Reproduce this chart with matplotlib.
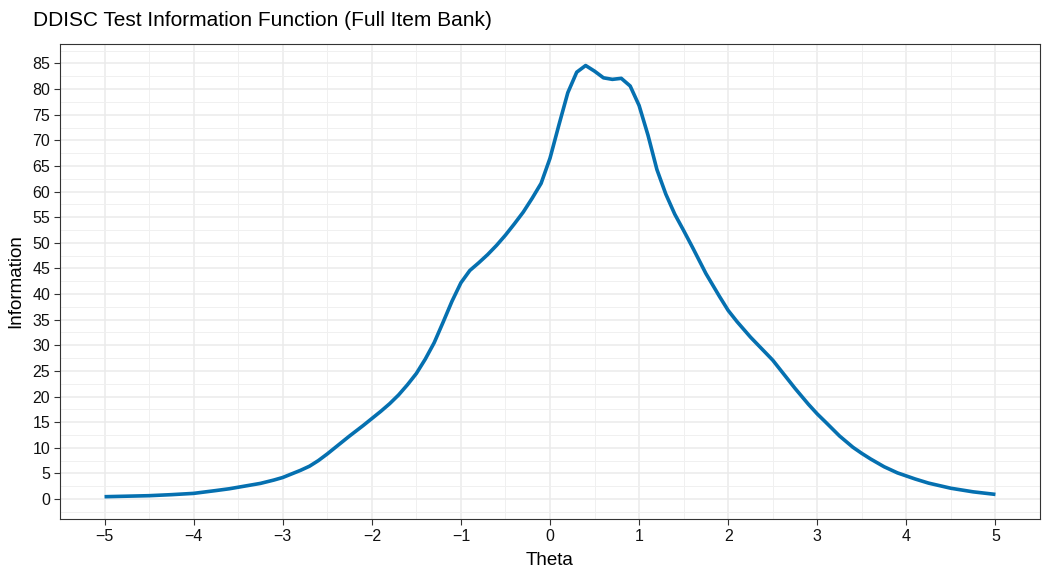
import matplotlib
matplotlib.use("Agg")
import matplotlib.pyplot as plt
from matplotlib.ticker import MultipleLocator

plt.rcParams['font.family'] = ['Liberation Sans', 'DejaVu Sans']

theta = [-5.0, -4.5, -4.25, -4.0, -3.75, -3.6, -3.5, -3.4, -3.25, -3.1, -3.0, -2.9,
         -2.8, -2.7, -2.6, -2.5, -2.4, -2.25, -2.1,
         -2.0, -1.9, -1.8, -1.7, -1.6, -1.5, -1.4, -1.3, -1.2, -1.1, -1.0, -0.9,
         -0.8, -0.7, -0.6, -0.5, -0.4, -0.3, -0.2, -0.1, 0.0, 0.1, 0.2, 0.3, 0.4,
         0.5, 0.6, 0.7, 0.8, 0.9, 1.0, 1.1, 1.2, 1.3, 1.4, 1.5, 1.6, 1.75, 1.9,
         2.0, 2.1, 2.25, 2.5, 2.75, 2.9, 3.0, 3.1, 3.25, 3.4, 3.5, 3.6, 3.75, 3.9,
         4.0, 4.1, 4.25, 4.5, 4.75, 5.0]
information = [0.45, 0.65, 0.85, 1.1, 1.65, 2.0, 2.3, 2.6, 3.05, 3.7, 4.2, 4.9,
               5.6, 6.4, 7.5, 8.8, 10.2, 12.3, 14.3,
               15.7, 17.1, 18.6, 20.3, 22.3, 24.5, 27.3, 30.5, 34.5, 38.6, 42.2, 44.6,
               46.1, 47.7, 49.5, 51.5, 53.7, 56.0, 58.7, 61.6, 66.5, 73.0, 79.3, 83.3, 84.6,
               83.5, 82.2, 81.9, 82.1, 80.6, 76.8, 71.0, 64.3, 59.5, 55.6, 52.4, 49.1, 44.0, 39.6,
               36.8, 34.6, 31.6, 27.1, 21.6, 18.5, 16.6, 14.9, 12.3, 10.1, 8.9, 7.8, 6.3, 5.1,
               4.5, 3.9, 3.1, 2.1, 1.4, 0.9]

title = "DDISC Test Information Function (Full Item Bank)"
xlabel = "Theta"
ylabel = "Information"

fig = plt.figure(figsize=(10.5, 5.75), dpi=100)
ax = fig.add_axes([60/1050, 1-519/575, 980/1050, 475/575])

ax.plot(theta, information, color='#0570B0', linewidth=2.6, solid_joinstyle='round',
        solid_capstyle='butt', zorder=3)

ax.set_xlim(-5.5, 5.5)
ax.set_ylim(-3.9, 88.8)
ax.xaxis.set_major_locator(MultipleLocator(1))
ax.xaxis.set_minor_locator(MultipleLocator(0.5))
ax.yaxis.set_major_locator(MultipleLocator(5))
ax.yaxis.set_minor_locator(MultipleLocator(2.5))
ax.grid(which='major', color='#EBEBEB', linewidth=1.1, zorder=0)
ax.grid(which='minor', color='#F0F0F0', linewidth=0.7, zorder=0)
ax.set_axisbelow(True)

for s in ax.spines.values():
    s.set_color('#333333')
    s.set_linewidth(0.8)

ax.tick_params(which='major', length=4, width=0.8, color='#333333', labelsize=11.5,
               labelcolor='#111111', pad=3)
ax.tick_params(which='minor', length=0)

xt = list(range(-5, 6))
ax.set_xticks(xt)
ax.set_xticklabels([str(v).replace('-', '\u2212') for v in xt])

ax.set_xlabel(xlabel, fontsize=13.5, labelpad=6)
ax.set_ylabel(ylabel, fontsize=13.5, labelpad=6)
fig.text(33/1050, 1-20/575, title, fontsize=15, va='center', ha='left')

fig.savefig("out.png", dpi=100)
